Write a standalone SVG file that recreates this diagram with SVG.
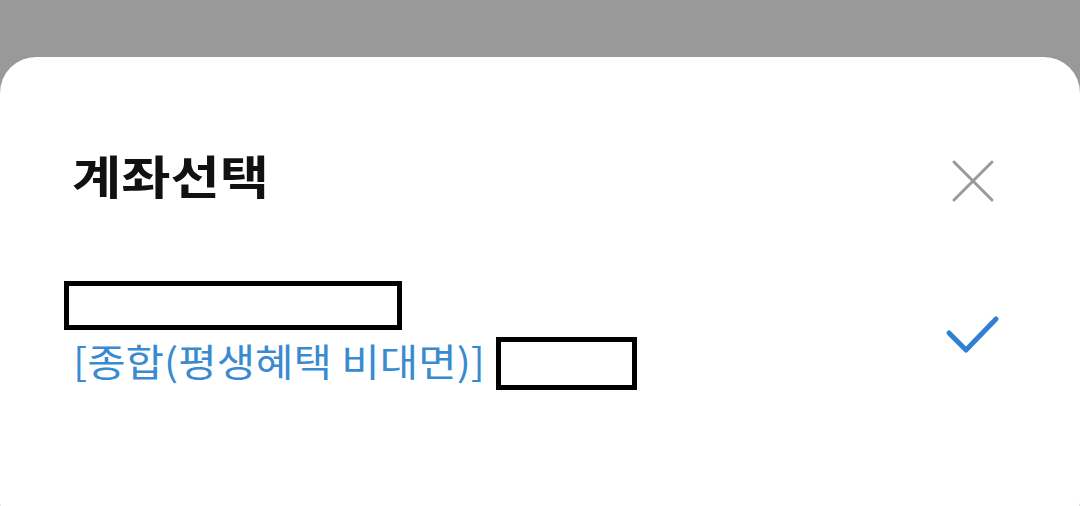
<svg xmlns="http://www.w3.org/2000/svg" width="1080" height="506" viewBox="0 0 1080 506">
<style>
.t{font-family:"Noto Sans CJK KR","Noto Sans",sans-serif}
</style>
<rect width="1080" height="506" fill="#999999"/>
<rect x="0" y="57" width="1080" height="480" rx="36" fill="#ffffff"/>
<g id="title"><text class="t" x="72" y="194" font-size="46" font-weight="bold" fill="#111" textLength="197" lengthAdjust="spacingAndGlyphs">계좌선택</text></g>
<g id="close" stroke="#9a9a9a" stroke-width="3" stroke-linecap="round"><line x1="954" y1="162" x2="992" y2="200"/><line x1="992" y1="162" x2="954" y2="200"/></g>
<g id="item">
<rect x="66.500" y="283.500" width="333" height="44" fill="#fff" stroke="#000" stroke-width="5"/>
<text class="t" x="73" y="376" font-size="38" fill="#3a8ad0" textLength="412" lengthAdjust="spacingAndGlyphs">[종합(평생혜택 비대면)]</text>
<rect x="498.500" y="339.500" width="136" height="48" fill="#fff" stroke="#000" stroke-width="5"/>
</g>
<g id="check"><polyline points="949,333 966,350 996,319" fill="none" stroke="#2f80d0" stroke-width="5" stroke-linecap="round" stroke-linejoin="round"/></g>
</svg>
